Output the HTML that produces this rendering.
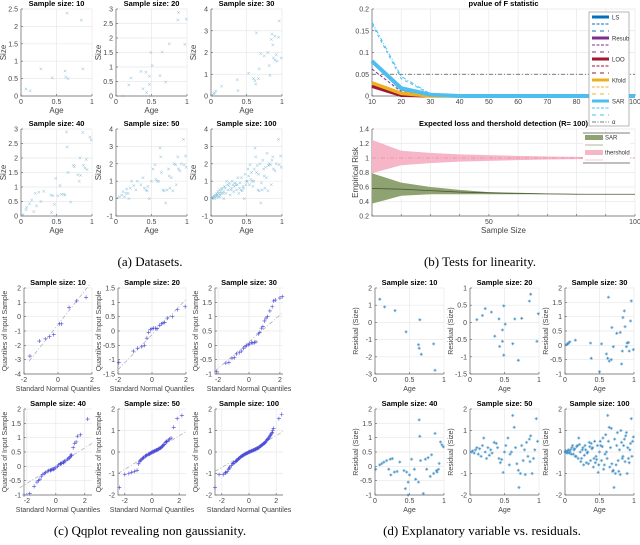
<!DOCTYPE html>
<html><head><meta charset="utf-8"><style>
html,body{margin:0;padding:0;background:#fff;}
svg{display:block;font-family:"Liberation Sans",sans-serif;}
.cap{font-family:"Liberation Serif",serif;font-size:13px;fill:#000;}
</style></head><body>
<svg id="fig" width="640" height="545" viewBox="0 0 640 545" xmlns="http://www.w3.org/2000/svg">
<text class="cap" x="150" y="266" text-anchor="middle">(a) Datasets.</text>
<text class="cap" x="480" y="266" text-anchor="middle">(b) Tests for linearity.</text>
<text class="cap" x="150" y="535" text-anchor="middle">(c) Qqplot revealing non gaussianity.</text>
<text class="cap" x="482" y="535" text-anchor="middle">(d) Explanatory variable vs. residuals.</text>
</svg>
<script>
// ---------- (a) datasets ----------
const a10=[[0.07,0.2],[0.13,0.15],[0.28,0.78],[0.44,0.52],[0.62,0.72],[0.63,0.55],[0.66,0.5],[0.65,2.38],[0.85,2.18],[0.87,0.78]];
const a20=[[0.1,0],[0.18,0.38],[0.21,0.62],[0.35,0.85],[0.38,0.25],[0.42,0.82],[0.43,0.12],[0.47,0.68],[0.47,0.4],[0.49,1.5],[0.49,0],[0.51,1.05],[0.62,0.7],[0.65,1.52],[0.7,0.48],[0.75,1.8],[0.88,2.88],[0.87,2.62],[0.97,1.78],[0.99,2.65]];
const a30=[[0.02,0.05],[0.04,0.1],[0.05,0.15],[0.07,0.22],[0.15,0.45],[0.37,0.75],[0.38,0.25],[0.53,1.05],[0.6,0.8],[0.62,0.7],[0.63,0.55],[0.64,2.9],[0.67,0.8],[0.68,1.25],[0.7,1.95],[0.75,1.85],[0.8,2.0],[0.82,1.4],[0.83,0.95],[0.85,2.6],[0.86,2.85],[0.87,2.35],[0.88,1.75],[0.9,1.65],[0.9,2.75],[0.92,1.9],[0.93,1.6],[0.95,2.7],[0.96,3.45],[0.99,1.75]];
const a40=[[0.01,0.02],[0.03,0.05],[0.07,0.22],[0.08,0.3],[0.12,0.42],[0.15,0.55],[0.18,0.15],[0.2,0.78],[0.22,0.35],[0.25,0.82],[0.28,0.5],[0.32,0.85],[0.42,0.72],[0.43,0.12],[0.45,0.7],[0.47,0.4],[0.49,1.3],[0.49,0],[0.55,1.05],[0.57,0.75],[0.62,0.72],[0.64,2.9],[0.65,2.38],[0.66,1.5],[0.7,0.48],[0.74,1.75],[0.75,1.7],[0.8,1.42],[0.82,1.2],[0.83,2.0],[0.84,1.4],[0.87,2.88],[0.88,1.75],[0.9,1.65],[0.92,1.95],[0.93,1.6],[0.97,2.72],[0.99,2.62],[0.52,0.7],[0.6,0.75]];
const a50=[[0.02,0.05],[0.05,0.1],[0.08,0.2],[0.1,0.4],[0.12,0.1],[0.15,0.55],[0.17,0.3],[0.18,0.0],[0.2,0.6],[0.22,1.0],[0.25,0.75],[0.28,0.5],[0.3,1.0],[0.38,1.2],[0.42,0.5],[0.44,0.45],[0.45,0.7],[0.47,0.0],[0.5,1.0],[0.52,1.7],[0.55,1.95],[0.56,1.1],[0.6,1.0],[0.62,2.9],[0.63,2.4],[0.64,1.5],[0.66,0.5],[0.68,0.45],[0.7,-0.25],[0.72,0.5],[0.74,1.7],[0.75,1.3],[0.78,1.2],[0.8,0.45],[0.82,2.0],[0.84,1.95],[0.85,0.8],[0.87,2.4],[0.88,1.7],[0.9,1.6],[0.92,2.0],[0.95,3.4],[0.96,1.95],[0.98,2.45],[0.99,1.8],[0.35,0.8],[0.4,0.6],[0.58,1.0],[0.76,0.6],[0.14,0.3]];
const a100extra=[[0.01,0.0],[0.02,0.1],[0.03,0.05],[0.04,0.15],[0.05,0.0],[0.06,0.2],[0.07,0.1],[0.08,0.3],[0.09,0.2],[0.1,0.1],[0.11,0.3],[0.12,0.5],[0.13,0.2],[0.14,0.4],[0.16,0.6],[0.18,0.4],[0.19,0.7],[0.21,0.3],[0.23,0.8],[0.24,0.5],[0.26,0.9],[0.27,0.2],[0.29,0.6],[0.31,0.8],[0.32,0.4],[0.33,0.7],[0.34,0.9],[0.36,0.5],[0.37,0.8],[0.39,0.3],[0.41,0.9],[0.43,1.2],[0.46,0.6],[0.48,1.4],[0.49,0.8],[0.51,1.0],[0.53,1.3],[0.54,0.8],[0.57,1.5],[0.59,0.7],[0.61,1.7],[0.65,1.9],[0.67,1.4],[0.69,2.0],[0.71,0.9],[0.73,2.2],[0.77,1.8],[0.79,2.6],[0.81,1.9],[0.86,2.2]];
const a100=a50.concat(a100extra);
// ---------- (b) tests ----------
const sizes=[10,20,30,40,50,60,70,80,90,100];
const lsSolid=[0.08,0.016,0.002,0,0,0,0,0,0,0];
const resubSolid=[0.024,0.002,0,0,0,0,0,0,0,0];
const resubDash=[0.062,0.01,0,0,0,0,0,0,0,0];
const looSolid=[0.022,0.001,0,0,0,0,0,0,0,0];
const kfoldSolid=[0.03,0.006,0,0,0,0,0,0,0,0];
const sarSolid=[0.08,0.018,0.003,0,0,0,0,0,0,0];
const sarDashDot=[0.17,0.045,0.005,0,0,0,0,0,0,0];
const sarDash=[0.165,0.04,0.004,0,0,0,0,0,0,0];
const alphaLevel=[0.05,0.05,0.05,0.05,0.05,0.05,0.05,0.05,0.05,0.05];
const threshUpper=[1.25,1.1,1.07,1.05,1.04,1.03,1.02,1.015,1.01,1.0];
const threshLower=[0.79,0.9,0.93,0.95,0.96,0.97,0.98,0.985,0.99,1.0];
const threshMean=[1,1,1,1,1,1,1,1,1,1];
const sarUpper=[0.79,0.66,0.6,0.56,0.53,0.52,0.51,0.505,0.5,0.5];
const sarLower=[0.37,0.48,0.5,0.5,0.5,0.5,0.5,0.5,0.5,0.5];
const sarMean=[0.58,0.57,0.55,0.53,0.52,0.51,0.505,0.5,0.5,0.5];
// ---------- (c) qq ----------
const q10=[[-1.65,-2.75],[-1.1,-1.7],[-0.75,-1.55],[-0.5,-1.4],[-0.25,-1.25],[0.1,-0.5],[0.2,-0.5],[0.65,0.65],[1.1,1.1],[1.65,1.35]];
const q20=[[-1.95,-1.1],[-1.1,-0.7],[-0.85,-0.6],[-0.6,-0.55],[-0.45,-0.5],[-0.3,-0.25],[-0.2,-0.05],[-0.1,0.05],[0.0,0.08],[0.1,0.1],[0.2,0.1],[0.3,0.08],[0.45,0.2],[0.55,0.25],[0.65,0.28],[0.75,0.3],[0.9,0.45],[1.2,0.5],[1.5,0.75],[1.95,0.85]];
const q30=[[-2.1,-0.92],[-1.5,-0.62],[-1.3,-0.6],[-1.1,-0.45],[-0.95,-0.43],[-0.8,-0.3],[-0.6,-0.25],[-0.5,-0.2],[-0.35,-0.1],[-0.25,-0.05],[-0.15,0.0],[-0.05,0.02],[0.05,0.05],[0.15,0.1],[0.25,0.08],[0.35,0.1],[0.45,0.12],[0.6,0.4],[0.7,0.45],[0.8,0.6],[0.9,0.65],[1.0,0.85],[1.1,0.95],[1.2,1.0],[1.35,1.2],[1.5,1.35],[1.6,1.55],[1.7,1.58],[2.0,1.65],[2.15,1.7]];
const q40=[[-2.2,-1.0],[-1.8,-0.95],[-1.5,-0.7],[-1.3,-0.55],[-1.2,-0.5],[-1.0,-0.35],[-0.9,-0.28],[-0.8,-0.25],[-0.7,-0.22],[-0.6,-0.18],[-0.5,-0.15],[-0.4,-0.13],[-0.3,-0.12],[-0.2,-0.1],[-0.1,-0.08],[0.0,-0.05],[0.1,0.0],[0.2,0.05],[0.3,0.08],[0.4,0.1],[0.5,0.15],[0.6,0.18],[0.7,0.2],[0.8,0.25],[0.9,0.27],[1.0,0.35],[1.1,0.38],[1.2,0.65],[1.3,0.8],[1.4,0.85],[1.5,1.05],[1.7,1.1],[2.2,1.65],[-0.35,-0.15],[0.55,0.12],[-1.1,-0.45],[1.05,0.4],[0.95,0.3],[-0.15,-0.1],[0.35,0.1]];
const q50=[[-2.4,-1.65],[-2.0,-1.05],[-1.7,-1.0],[-1.5,-0.95],[-1.3,-0.9],[-1.1,-0.85],[-1.0,-0.55],[-0.9,-0.45],[-0.8,-0.35],[-0.7,-0.3],[-0.6,-0.25],[-0.5,-0.2],[-0.4,-0.15],[-0.3,-0.12],[-0.2,-0.1],[-0.1,-0.05],[0,-0.02],[0.1,0.0],[0.2,0.05],[0.3,0.08],[0.4,0.1],[0.5,0.15],[0.6,0.18],[0.7,0.22],[0.8,0.3],[0.9,0.35],[1.0,0.45],[1.1,0.5],[1.2,0.55],[1.3,0.6],[1.4,0.65],[1.6,1.15],[1.85,1.55],[2.2,1.7],[-0.45,-0.18],[-0.25,-0.1],[0.05,0.02],[0.25,0.06],[0.45,0.12],[0.65,0.2],[-0.65,-0.28],[-0.85,-0.4],[0.85,0.33],[0.15,0.03],[-0.15,-0.07],[-0.05,-0.03],[0.35,0.09],[0.55,0.16],[0.75,0.25],[1.05,0.48]];
const q100=[[-2.5,-1.65],[-2.2,-1.05],[-1.9,-1.05],[-1.7,-0.95],[-1.6,-0.9],[-1.5,-0.8],[-1.4,-0.7],[-1.3,-0.62],[-1.2,-0.55],[-1.1,-0.5],[-1.0,-0.45],[-0.9,-0.4],[-0.8,-0.33],[-0.7,-0.28],[-0.6,-0.22],[-0.5,-0.18],[-0.4,-0.14],[-0.3,-0.1],[-0.2,-0.07],[-0.1,-0.04],[0,0],[0.1,0.02],[0.2,0.05],[0.3,0.08],[0.4,0.1],[0.5,0.13],[0.6,0.17],[0.7,0.2],[0.8,0.25],[0.9,0.3],[1.0,0.35],[1.1,0.4],[1.2,0.45],[1.3,0.55],[1.4,0.6],[1.5,0.7],[1.6,0.8],[1.7,0.9],[1.8,1.1],[2.2,1.55],[2.4,1.75],[-1.75,-0.98],[-1.45,-0.75],[-1.15,-0.52],[-0.95,-0.43],[-0.85,-0.37],[-0.75,-0.3],[-0.65,-0.25],[-0.55,-0.2],[-0.45,-0.16],[-0.35,-0.12],[-0.25,-0.08],[-0.15,-0.05],[-0.05,-0.02],[0.05,0.01],[0.15,0.04],[0.25,0.06],[0.35,0.09],[0.45,0.12],[0.55,0.15],[0.65,0.18],[0.75,0.22],[0.85,0.28],[0.95,0.32],[1.05,0.38],[1.15,0.42],[1.25,0.5],[1.35,0.58],[1.45,0.65],[1.55,0.75],[1.65,0.85],[1.75,1.0]];
const q10line=[[-1.7,-3.1],[1.9,2.3]];
const q20line=[[-2,-1.35],[2,1.1]];
const q30line=[[-2.2,-0.9],[2.2,1.15]];
const q40line=[[-2.5,-0.75],[2.5,0.8]];
const q50line=[[-2.5,-1.0],[2.5,0.95]];
const q100line=[[-2.5,-0.9],[2.5,0.95]];
// ---------- (d) residuals ----------
const r10=[[0.07,1.35],[0.14,0.9],[0.29,0.68],[0.45,-0.55],[0.63,-1.3],[0.64,-1.5],[0.65,0.15],[0.67,-1.85],[0.85,-1.25],[0.87,-2.78]];
const r20=[[0.1,0.08],[0.18,0.2],[0.22,0.4],[0.31,0.3],[0.36,-0.4],[0.42,0.1],[0.43,-0.7],[0.47,-0.55],[0.47,-0.22],[0.49,-0.95],[0.49,0.48],[0.51,-0.05],[0.62,-0.62],[0.65,0.1],[0.7,-1.1],[0.75,0.12],[0.86,0.62],[0.88,0.82],[0.97,-0.55],[0.99,0.25]];
const r30=[[0.02,0.02],[0.04,0.05],[0.05,0.08],[0.07,0.12],[0.15,0.18],[0.37,0.08],[0.38,-0.45],[0.5,-0.92],[0.53,0.05],[0.6,-0.3],[0.62,-0.45],[0.63,1.68],[0.64,-0.55],[0.67,-0.5],[0.68,0.62],[0.7,-0.05],[0.75,0.42],[0.8,0.45],[0.82,-0.65],[0.83,-0.2],[0.84,0.97],[0.86,1.2],[0.87,0.65],[0.89,-0.05],[0.9,0.08],[0.92,0.1],[0.93,-0.2],[0.95,0.85],[0.96,1.55],[0.99,-0.15]];
const r40=[[0.01,-0.1],[0.07,0.05],[0.1,0.1],[0.13,0.15],[0.17,0.2],[0.2,-0.1],[0.22,0.25],[0.23,-0.3],[0.25,0.27],[0.28,-0.2],[0.32,-0.18],[0.36,0.15],[0.42,-0.15],[0.44,-0.78],[0.46,-0.2],[0.48,-0.55],[0.48,-1.0],[0.5,-0.3],[0.53,0.25],[0.57,-0.1],[0.59,-0.45],[0.63,-0.55],[0.64,1.62],[0.65,1.05],[0.66,0.2],[0.7,-0.95],[0.73,0.25],[0.75,-0.1],[0.77,0.3],[0.8,-0.35],[0.82,0.4],[0.85,-0.25],[0.87,1.15],[0.9,-0.2],[0.92,-0.1],[0.93,0.1],[0.95,0.85],[0.97,0.75],[0.99,0.68],[0.89,-0.15]];
const r50=[[0.02,0.0],[0.04,0.05],[0.06,-0.05],[0.08,0.1],[0.1,0.2],[0.12,-0.1],[0.14,0.15],[0.16,-0.2],[0.18,0.3],[0.2,0.65],[0.22,0.0],[0.24,-0.3],[0.26,0.2],[0.28,-0.15],[0.3,0.1],[0.35,0.45],[0.42,-0.3],[0.44,-0.5],[0.46,-0.35],[0.48,-0.95],[0.5,0.0],[0.52,0.3],[0.55,0.65],[0.58,-0.1],[0.62,1.7],[0.64,1.15],[0.66,0.2],[0.68,-0.55],[0.7,-0.85],[0.71,-1.65],[0.73,-1.0],[0.75,0.3],[0.77,-0.4],[0.8,-1.05],[0.82,0.45],[0.84,-0.2],[0.86,0.6],[0.88,0.75],[0.9,-1.0],[0.92,-0.3],[0.94,0.1],[0.96,1.55],[0.98,0.5],[0.6,0.0],[0.38,0.4],[0.4,0.2],[0.79,0.1],[0.87,-0.45],[0.57,-0.6],[0.32,-0.05]];
const r100extra=[[0.01,0.05],[0.03,-0.05],[0.05,0.1],[0.07,0.0],[0.09,-0.1],[0.11,0.3],[0.13,0.1],[0.15,-0.2],[0.17,0.25],[0.19,-0.3],[0.21,0.35],[0.23,-0.45],[0.25,0.1],[0.27,-0.6],[0.29,0.3],[0.31,-0.5],[0.33,0.0],[0.34,-0.55],[0.36,0.25],[0.37,-0.4],[0.39,0.15],[0.41,-0.7],[0.43,0.5],[0.45,-0.2],[0.47,0.3],[0.49,-0.6],[0.51,0.5],[0.53,-0.4],[0.54,0.25],[0.56,-0.8],[0.59,0.8],[0.61,-0.3],[0.63,0.5],[0.65,-0.7],[0.67,1.1],[0.69,-0.9],[0.72,0.6],[0.74,-0.6],[0.76,0.9],[0.78,-0.9],[0.81,1.0],[0.83,-0.3],[0.85,0.3],[0.89,0.9],[0.91,0.2],[0.93,-0.5],[0.95,0.4],[0.97,-0.2],[0.99,0.7],[0.0,0.0]];
const r100=r50.concat(r100extra);

const NS='http://www.w3.org/2000/svg';
const svg=document.getElementById('fig');
function mk(tag,attrs,parent){const e=document.createElementNS(NS,tag);for(const k in attrs)e.setAttribute(k,attrs[k]);(parent||svg).appendChild(e);return e;}
function txt(s,attrs,parent){const e=mk('text',attrs,parent);e.textContent=s;return e;}
function range(a,b,s){const r=[];for(let v=a;v<=b+1e-9;v+=s)r.push(Math.round(v*1000)/1000);return r;}
function fmt(v){return String(v);}

function axes(name,o){
  const g=mk('g',{});
  
  
  const sx=v=>o.x0+(v-o.xr[0])/(o.xr[1]-o.xr[0])*o.w;
  const sy=v=>o.y0+o.h-(v-o.yr[0])/(o.yr[1]-o.yr[0])*o.h;
  o.xt.forEach(t=>{const X=sx(t);
    if(o.grid!==false){const gl=mk('line',{x1:X,x2:X,y1:o.y0,y2:o.y0+o.h,stroke:'#e8e8e8','stroke-width':0.7},g);
    }
    mk('line',{x1:X,x2:X,y1:o.y0+o.h,y2:o.y0+o.h-2,stroke:'#555','stroke-width':0.6},g);
    if(!o.xshow||o.xshow.includes(t)){const tl=txt(fmt(t),{x:X,y:o.y0+o.h+8,'font-size':7,'text-anchor':'middle',fill:'#444'},g);
    }});
  o.yt.forEach(t=>{const Y=sy(t);
    if(o.grid!==false){const gl=mk('line',{x1:o.x0,x2:o.x0+o.w,y1:Y,y2:Y,stroke:'#e8e8e8','stroke-width':0.7},g);
    }
    mk('line',{x1:o.x0,x2:o.x0+2,y1:Y,y2:Y,stroke:'#555','stroke-width':0.6},g);
    const tl=txt(fmt(t),{x:o.x0-3,y:Y+2.5,'font-size':7,'text-anchor':'end',fill:'#444'},g);
    });
  const al=mk('path',{d:`M${o.x0},${o.y0}V${o.y0+o.h}H${o.x0+o.w}`,fill:'none',stroke:'#666','stroke-width':0.7},g);
  
  if(o.title){const t=txt(o.title,{x:o.x0+o.w/2,y:o.y0-3,'font-size':7.5,'font-weight':'bold','text-anchor':'middle',fill:'#000'},g);
    }
  if(o.xlabel){const t=txt(o.xlabel,{x:o.x0+o.w/2,y:o.y0+o.h+17,'font-size':o.lfs||8,'text-anchor':'middle',fill:'#444'},g);
    }
  if(o.ylabel){const yx=o.ylx||o.x0-15,yy=o.y0+o.h/2;const t=txt(o.ylabel,{x:yx,y:yy,'font-size':o.lfs||8,'text-anchor':'middle',fill:'#444',transform:`rotate(-90 ${yx} ${yy})`},g);
    }
  return {g,sx,sy};
}
function marker(g,X,Y,type,color,name){
  let d,sw=0.5;
  if(type==='x')d=`M${X-1.3},${Y-1.3}L${X+1.3},${Y+1.3}M${X-1.3},${Y+1.3}L${X+1.3},${Y-1.3}`;
  else if(type==='+'){d=`M${X-2},${Y}H${X+2}M${X},${Y-2}V${Y+2}`;sw=0.6;}
  else d=`M${X-1.6},${Y}H${X+1.6}M${X},${Y-1.6}V${Y+1.6}M${X-1.1},${Y-1.1}L${X+1.1},${Y+1.1}M${X-1.1},${Y+1.1}L${X+1.1},${Y-1.1}`;
  const p=mk('path',{d,stroke:color,'stroke-width':sw,fill:'none'},g);
  
  
}
function scatter(name,o,data,type,color){const A=axes(name,o);data.forEach(p=>marker(A.g,A.sx(p[0]),A.sy(p[1]),type,color,'data-point'));return A;}

// (a)
const ax=[21,116,211], aw=71;
const aSpecs=[
 [a10,'Sample size: 10',[0,2.5],range(0,2.5,0.5),0,9,87],
 [a20,'Sample size: 20',[0,3],range(0,3,0.5),1,9,87],
 [a30,'Sample size: 30',[0,4],range(0,4,1),2,9,87],
 [a40,'Sample size: 40',[0,3],range(0,3,0.5),0,129,87],
 [a50,'Sample size: 50',[-1,4],range(-1,4,1),1,129,87],
 [a100,'Sample size: 100',[-1,4],range(-1,4,1),2,129,87]];
aSpecs.forEach((s,i)=>scatter('dataset-panel-'+(i+1),{x0:ax[s[4]],y0:s[5],w:aw,h:s[6],xr:[0,1],yr:s[2],xt:[0,0.5,1],yt:s[3],title:s[1],xlabel:'Age',ylabel:'Size'},s[0],'x','#7bb9d6'));

// (b) top
const B1=axes('pvalue-chart',{x0:372,y0:9,w:263,h:87,xr:[10,100],yr:[0,0.2],xt:range(10,100,10),yt:[0,0.05,0.1,0.15,0.2],title:'pvalue of F statistic'});
function line(A,xs,ys,color,width,dash,name){
  const d=xs.map((x,i)=>(i?'L':'M')+A.sx(x)+','+A.sy(ys[i])).join('');
  const p=mk('path',{d,stroke:color,'stroke-width':width,fill:'none','stroke-dasharray':dash||'none'},A.g);
  
  
}
line(B1,sizes,alphaLevel,'#555',0.8,'4 2 1 2','alpha-line');
line(B1,sizes,sarDashDot,'#4DBEEE',1,'4 2 1 2','sar-dashdot');
line(B1,sizes,sarDash,'#4DBEEE',1,'3 3','sar-dashed');
line(B1,sizes,resubDash,'#7E2F8E',1,'3 2','resub-dashed');
line(B1,sizes,lsSolid,'#0072BD',3,'','ls-line');
line(B1,sizes,resubSolid,'#7E2F8E',3,'','resub-line');
line(B1,sizes,looSolid,'#A2142F',3,'','loo-line');
line(B1,sizes,kfoldSolid,'#EDB120',3.5,'','kfold-line');
line(B1,sizes,sarSolid,'#4DBEEE',4,'','sar-line');
// legend top
const L1=mk('g',{});


mk('rect',{x:589,y:12,width:40,height:114,fill:'#fff',stroke:'#888','stroke-width':0.6},L1);
const legNames=['LS','Resub','LOO','Kfold','SAR'];
const legCols=['#0072BD','#7E2F8E','#A2142F','#EDB120','#4DBEEE'];
legNames.forEach((n,i)=>{const y=17+i*21;
  const e=mk('g',{},L1);
  
  
  mk('rect',{x:592,y:y-1.5,width:17,height:3,fill:legCols[i]},e);
  txt(n,{x:612,y:y+2.5,'font-size':6,fill:'#333'},e);
  mk('line',{x1:592,x2:609,y1:y+7,y2:y+7,stroke:legCols[i],'stroke-width':1,'stroke-dasharray':'3 1.5'},e);
  mk('line',{x1:592,x2:609,y1:y+14,y2:y+14,stroke:legCols[i],'stroke-width':1,'stroke-dasharray':'4 4'},e);
});
const ae=mk('g',{},L1);


mk('line',{x1:592,x2:609,y1:122,y2:122,stroke:'#555','stroke-width':0.8,'stroke-dasharray':'4 1.5 1 1.5'},ae);
txt('α',{x:612,y:124,'font-size':6,fill:'#333'},ae);

// (b) bottom
const B2=axes('risk-chart',{x0:372,y0:129,w:263,h:87,xr:[10,100],yr:[0.2,1.4],xt:range(10,100,10),xshow:[50,100],yt:[0.2,0.4,0.6,0.8,1,1.2,1.4],title:'Expected loss and thershold detection (R= 100)',xlabel:'Sample Size',ylabel:'Empirical Risk',ylx:358});
function band(A,xs,up,lo,color,name){
  const d=xs.map((x,i)=>(i?'L':'M')+A.sx(x)+','+A.sy(up[i])).join('')+xs.slice().reverse().map((x,j)=>{const i=xs.length-1-j;return 'L'+A.sx(x)+','+A.sy(lo[i]);}).join('')+'Z';
  const p=mk('path',{d,fill:color,stroke:'none'},A.g);
  
  
}
band(B2,sizes,threshUpper,threshLower,'#f7b6c8','threshold-band');
band(B2,sizes,sarUpper,sarLower,'#8fa372','sar-band');
line(B2,sizes,threshMean,'#e88aa5',0.8,'4 2 1 2','threshold-mean');
line(B2,sizes,sarMean,'#4a5a35',0.8,'','sar-mean');
const L2=mk('g',{});


mk('rect',{x:583,y:133,width:47,height:30,fill:'#fff',stroke:'none'},L2);
mk('line',{x1:583,x2:630,y1:133,y2:133,stroke:'#555','stroke-width':0.7},L2);
mk('line',{x1:583,x2:630,y1:163,y2:163,stroke:'#555','stroke-width':0.7},L2);
const e1=mk('g',{},L2);
mk('rect',{x:585,y:135,width:18,height:5,fill:'#8fa372'},e1);txt('SAR',{x:605,y:139.5,'font-size':6,fill:'#333'},e1);
mk('line',{x1:585,x2:603,y1:145,y2:145,stroke:'#8fa372','stroke-width':0.8},e1);
const e2=mk('g',{},L2);
mk('rect',{x:585,y:150,width:18,height:5,fill:'#f7b6c8'},e2);txt('thershold',{x:605,y:154.5,'font-size':6,fill:'#333'},e2);
mk('line',{x1:585,x2:603,y1:160,y2:160,stroke:'#f7b6c8','stroke-width':0.8},e2);

// (c)
const cx=[24,118,215], cw=68;
const cSpecs=[
 [q10,q10line,'Sample size: 10',[-2,2],[-4,2],range(-4,2,1),0,288],
 [q20,q20line,'Sample size: 20',[-2,2],[-1.5,1.5],range(-1.5,1.5,0.5),1,288],
 [q30,q30line,'Sample size: 30',[-2.2,2.2],[-1,2],range(-1,2,0.5),2,288],
 [q40,q40line,'Sample size: 40',[-2.2,2.5],[-1,2],range(-1,2,0.5),0,409],
 [q50,q50line,'Sample size: 50',[-2.5,2.5],[-2,2],range(-2,2,1),1,409],
 [q100,q100line,'Sample size: 100',[-2.5,2.5],[-2,2],range(-2,2,1),2,409]];
cSpecs.forEach((s,i)=>{
  const A=axes('qqplot-panel-'+(i+1),{x0:cx[s[6]],y0:s[7],w:cw,h:86,xr:s[3],yr:s[4],xt:[-2,0,2],yt:s[5],title:s[2],xlabel:'Standard Normal Quantiles',ylabel:'Quantiles of Input Sample',ylx:cx[s[6]]-17,lfs:7});
  line(A,[s[1][0][0],s[1][1][0]],[s[1][0][1],s[1][1][1]],'#aaa',0.7,'4 2 1 2','reference-line');
  s[0].forEach(p=>marker(A.g,A.sx(p[0]),A.sy(p[1]),'+','#4a4ad8','qq-point'));
});

// (d)
const dx=[375,470,565], dw=69;
const dSpecs=[
 [r10,'Sample size: 10',[-3,2],range(-3,2,1),0,288],
 [r20,'Sample size: 20',[-1.5,1],range(-1.5,1,0.5),1,288],
 [r30,'Sample size: 30',[-1,2],range(-1,2,0.5),2,288],
 [r40,'Sample size: 40',[-1,2],range(-1,2,0.5),0,409],
 [r50,'Sample size: 50',[-2,2],range(-2,2,1),1,409],
 [r100,'Sample size: 100',[-2,2],range(-2,2,1),2,409]];
dSpecs.forEach((s,i)=>scatter('residual-panel-'+(i+1),{x0:dx[s[4]],y0:s[5],w:dw,h:86,xr:[0,1],yr:s[2],xt:[0,0.5,1],yt:s[3],title:s[1],xlabel:'Age',ylabel:'Residual (Size)',ylx:dx[s[4]]-17,lfs:7},s[0],'*','#3a8cc4'));
</script>
</body></html>
